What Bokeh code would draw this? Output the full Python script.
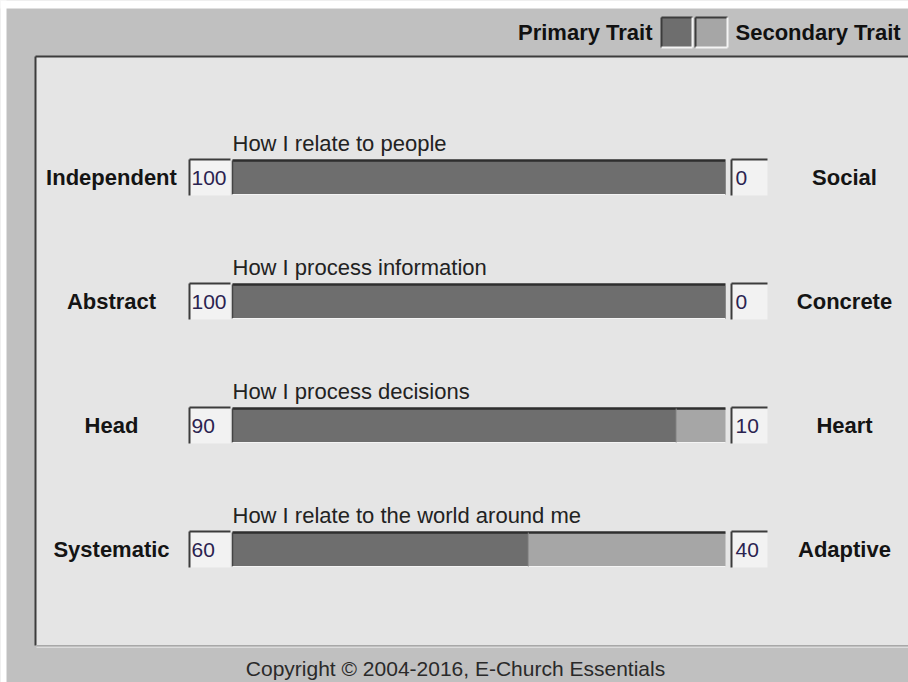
from bokeh.plotting import figure
from bokeh.models import Range1d
from bokeh.core.properties import value
from bokeh.embed import file_html
from bokeh.resources import INLINE

# ---- data ----
categories = ["How I relate to people", "How I process information",
              "How I process decisions", "How I relate to the world around me"]
left_traits = ["Independent", "Abstract", "Head", "Systematic"]
right_traits = ["Social", "Concrete", "Heart", "Adaptive"]
primary = [100, 100, 90, 60]
secondary = [0, 0, 10, 40]
legend_labels = ["Primary Trait", "Secondary Trait"]
copyright_text = "Copyright \u00a9 2004-2016, E-Church Essentials"

# ---- layout (pixel geometry of the figure) ----
W, H = 908, 682
X0, KX = 232, 4.93     # pixel of value 0, pixels per percent
Y0, KY = 177, 124      # pixel of first row centre, pixels per row


def dx(px):
    return (px - X0) / KX


def dy(py):
    return (py - Y0) / KY


OUTER = "#c0c0c0"
PANEL = "#e5e5e5"
DARK = "#6e6e6e"
LIGHT = "#a6a6a6"
EDGE = "#3c3c3c"
FONT = "Liberation Sans, Arial, sans-serif"

p = figure(width=W, height=H, x_range=Range1d(dx(0), dx(W)),
           y_range=Range1d(dy(H), dy(0)), output_backend="svg",
           toolbar_location=None, min_border=0, x_axis_type=None,
           y_axis_type=None, background_fill_color=OUTER,
           border_fill_color=OUTER)
p.grid.visible = False
p.outline_line_color = None

# white page edge (top / left strip of the screenshot)
p.quad(left=[dx(-5)], right=[dx(W + 5)], top=[dy(-5)], bottom=[dy(8)],
       fill_color="white", line_color=None)
p.quad(left=[dx(-5)], right=[dx(6)], top=[dy(-5)], bottom=[dy(H + 5)],
       fill_color="white", line_color=None)

# panel
p.quad(left=[dx(35)], right=[dx(W + 5)], top=[dy(56)], bottom=[dy(645)],
       fill_color=PANEL, line_color=None)
p.segment(x0=[dx(35), dx(35)], x1=[dx(W + 5), dx(35)],
          y0=[dy(56), dy(56)], y1=[dy(56), dy(645)],
          line_color=EDGE, line_width=2)
p.segment(x0=[dx(36)], x1=[dx(W + 5)], y0=[dy(645)], y1=[dy(645)],
          line_color="#a8a8a8", line_width=1)
p.segment(x0=[dx(36)], x1=[dx(W + 5)], y0=[dy(647)], y1=[dy(647)],
          line_color="#dcdcdc", line_width=1)

rows = list(range(len(categories)))
BH = 34 / KY
BOXH = 36 / KY
totals = [a + b for a, b in zip(primary, secondary)]
tops = [r - BH / 2 for r in rows]
bottoms = [r + BH / 2 for r in rows]
btops = [r - BOXH / 2 for r in rows]
bbots = [r + BOXH / 2 for r in rows]

# value boxes
for (l, r) in [(189, 230), (731, 767)]:
    p.quad(left=dx(l), right=dx(r), top=btops, bottom=bbots,
           fill_color="#f2f2f2", line_color=None)
    p.segment(x0=dx(l), x1=dx(r), y0=btops, y1=btops, line_color=EDGE,
              line_width=2)
    p.segment(x0=dx(l), x1=dx(l), y0=btops, y1=bbots, line_color=EDGE,
              line_width=2)

# bars
p.hbar(y=rows, left=0, right=primary, height=BH, fill_color=DARK,
       line_color=None)
p.hbar(y=rows, left=primary, right=totals, height=BH, fill_color=LIGHT,
       line_color=None)
p.segment(x0=0, x1=totals, y0=tops, y1=tops, line_color="#2e2e2e",
          line_width=2.5)
p.segment(x0=0, x1=0, y0=tops, y1=bottoms, line_color="#444444",
          line_width=1.5)
p.segment(x0=0, x1=totals, y0=bottoms, y1=bottoms, line_color="#f4f4f4",
          line_width=1)
p.segment(x0=primary, x1=primary, y0=tops, y1=bottoms, line_color="#8a8a8a",
          line_width=1)

# numbers
p.text(x=dx(191), y=rows, text=[str(v) for v in primary],
       text_font=value(FONT), text_font_size="21px", text_color="#2b2350",
       text_align="left", text_baseline="middle")
p.text(x=dx(735), y=rows, text=[str(v) for v in secondary],
       text_font=value(FONT), text_font_size="21px", text_color="#2b2350",
       text_align="left", text_baseline="middle")

# trait labels
p.text(x=dx(111), y=rows, text=left_traits, text_font=value(FONT),
       text_font_size="22px", text_font_style="bold", text_color="#141414",
       text_align="center", text_baseline="middle")
p.text(x=dx(844), y=rows, text=right_traits, text_font=value(FONT),
       text_font_size="22px", text_font_style="bold", text_color="#141414",
       text_align="center", text_baseline="middle")

# titles
p.text(x=0, y=[r - 34 / KY for r in rows], text=categories,
       text_font=value(FONT), text_font_size="22px", text_color="#222222",
       text_align="left", text_baseline="middle")

# legend
p.text(x=[dx(652)], y=[dy(32)], text=[legend_labels[0]],
       text_font=value(FONT), text_font_size="22px", text_font_style="bold",
       text_color="#111111", text_align="right", text_baseline="middle")
p.text(x=[dx(735)], y=[dy(32)], text=[legend_labels[1]],
       text_font=value(FONT), text_font_size="22px", text_font_style="bold",
       text_color="#111111", text_align="left", text_baseline="middle")
sw_l = [dx(661), dx(695)]
sw_r = [dx(692), dx(727)]
p.quad(left=sw_l, right=sw_r, top=dy(17), bottom=dy(47),
       fill_color=[DARK, LIGHT], line_color=None)
p.segment(x0=sw_l, x1=sw_r, y0=dy(17), y1=dy(17), line_color=EDGE,
          line_width=2)
p.segment(x0=sw_l, x1=sw_l, y0=dy(17), y1=dy(47), line_color=EDGE,
          line_width=2)
p.segment(x0=sw_l, x1=sw_r, y0=dy(47), y1=dy(47), line_color="#f4f4f4",
          line_width=2)
p.segment(x0=sw_r, x1=sw_r, y0=dy(17), y1=dy(47), line_color="#f4f4f4",
          line_width=2)

# copyright
p.text(x=[dx(455)], y=[dy(668)], text=[copyright_text], text_font=value(FONT),
       text_font_size="21px", text_color="#2a2a2a", text_align="center",
       text_baseline="middle")

open("out.html", "w").write(file_html(p, INLINE))
